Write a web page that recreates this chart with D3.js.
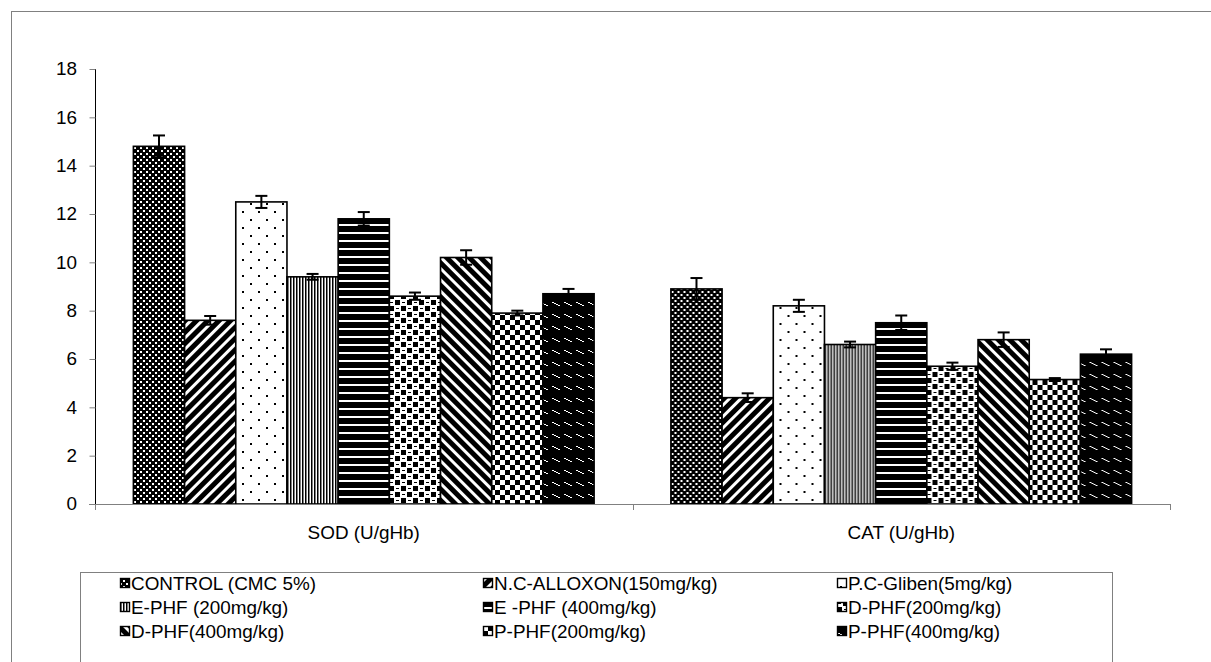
<!DOCTYPE html>
<html lang="en">
<head>
<meta charset="UTF-8">
<title>SOD / CAT</title>
<style>
  body { margin: 0; background: #fff; }
  svg text { font-family: "Liberation Sans", Arial, sans-serif; fill: #000; }
</style>
</head>
<body>
<div id="chart"></div>
<script src="https://d3js.org/d3.v7.min.js"></script>
<script>
const categories = ["SOD (U/gHb)", "CAT (U/gHb)"];
const groups = ["CONTROL (CMC 5%)", "N.C-ALLOXON(150mg/kg)", "P.C-Gliben(5mg/kg)",
                "E-PHF (200mg/kg)", "E -PHF (400mg/kg)", "D-PHF(200mg/kg)",
                "D-PHF(400mg/kg)", "P-PHF(200mg/kg)", "P-PHF(400mg/kg)"];
const sodValues = [14.8, 7.6, 12.5, 9.4, 11.8, 8.6, 10.2, 7.9, 8.7];
const sodErrors = [0.45, 0.18, 0.25, 0.12, 0.28, 0.15, 0.3, 0.1, 0.2];
const catValues = [8.9, 4.4, 8.2, 6.6, 7.5, 5.7, 6.8, 5.15, 6.2];
const catErrors = [0.45, 0.18, 0.25, 0.12, 0.3, 0.15, 0.3, 0.06, 0.2];
const yTicks = [0, 2, 4, 6, 8, 10, 12, 14, 16, 18];

const width = 1211, height = 662;
const fontSize = 18, stretchX = 1.05;
const svg = d3.select("#chart").append("svg")
    .attr("width", width).attr("height", height);

// text in the original is a little wide, so stretch it round its anchor
function stretch(sel) {
    sel.each(function () {
        const t = d3.select(this);
        const tx = +t.attr("x") || 0, ty = +t.attr("y") || 0;
        t.attr("x", 0).attr("y", 0)
         .attr("transform", `translate(${tx},${ty}) scale(${stretchX},1)`);
    });
}

// outer chart frame
svg.append("rect")
    .attr("x", 11.5).attr("y", 11.5)
    .attr("width", width).attr("height", height)
    .attr("fill", "none").attr("stroke", "#808080");

// fill patterns, one per group
const defs = svg.append("defs");
function pat(id, w, h, bg, draw, transform) {
    const p = defs.append("pattern")
        .attr("id", id).attr("patternUnits", "userSpaceOnUse")
        .attr("width", w).attr("height", h);
    if (transform) p.attr("patternTransform", transform);
    p.append("rect").attr("width", w).attr("height", h).attr("fill", bg);
    draw(p);
}
const fg = (p, x, y, w, h, c) => p.append("rect").attr("x", x).attr("y", y)
    .attr("width", w).attr("height", h).attr("fill", c);

pat("p0", 6, 6, "#000", p => { fg(p, 0, 0, 2, 2, "#fff"); fg(p, 3, 3, 2, 2, "#fff"); });
pat("p1", 8, 8, "#fff", p => fg(p, 0, 0, 5, 8, "#000"), "rotate(45)");
pat("p2", 16, 16, "#fff", p => { fg(p, 3, 3, 2, 2, "#000"); fg(p, 11, 11, 2, 2, "#000"); });
pat("p3", 3, 3, "#fff", p => fg(p, 0, 0, 1.5, 3, "#000"));
pat("p4", 8, 8, "#000", p => fg(p, 0, 0, 8, 2, "#fff"));
pat("p5", 12, 12, "#fff", p => {
    fg(p, 0, 0, 5, 5, "#000"); fg(p, 6, 6, 5, 5, "#000");
    fg(p, 7, 2, 3, 1, "#000"); fg(p, 1, 8, 3, 1, "#000");
});
pat("p6", 8, 8, "#fff", p => fg(p, 0, 0, 5, 8, "#000"), "rotate(-45)");
pat("p7", 10, 10, "#fff", p => { fg(p, 0, 0, 5, 5, "#000"); fg(p, 5, 5, 5, 5, "#000"); });
pat("p8", 12, 12, "#000", p => {
    fg(p, 1, 2, 2, 1, "#fff"); fg(p, 3, 3, 2, 1, "#fff");
    fg(p, 5, 4, 2, 1, "#fff"); fg(p, 7, 5, 2, 1, "#fff");
});

const y = d3.scaleLinear().domain([0, 18]).range([504, 69]);
const x0 = d3.scaleBand().domain(categories).range([95, 1170]);
const x1 = d3.scaleBand().domain(groups).range([0, x0.bandwidth()])
    .paddingInner(0).paddingOuter(0.75);

const data = categories.map((c, ci) => ({
    cat: c,
    vals: groups.map((g, gi) => ({
        g, gi,
        v: ci === 0 ? sodValues[gi] : catValues[gi],
        e: ci === 0 ? sodErrors[gi] : catErrors[gi]
    }))
}));

// y axis
const yAxis = svg.append("g").attr("transform", "translate(95,0)")
    .call(d3.axisLeft(y).tickValues(yTicks).tickSize(6).tickSizeOuter(0).tickPadding(12));
yAxis.select(".domain").attr("stroke", "#000").attr("d", `M0.5,${y(18)}V${y(0)}`);
yAxis.selectAll(".tick line").attr("stroke", "#808080").attr("transform", "translate(0.5,0)");
yAxis.selectAll(".tick text").attr("font-size", fontSize)
    .attr("font-family", "Liberation Sans, Arial").attr("fill", "#000").call(stretch);

// bars
const gCat = svg.append("g").selectAll("g").data(data).join("g")
    .attr("transform", d => `translate(${x0(d.cat)},0)`);

gCat.selectAll("rect").data(d => d.vals).join("rect")
    .attr("x", d => x1(d.g))
    .attr("y", d => y(d.v))
    .attr("width", x1.bandwidth())
    .attr("height", d => y(0) - y(d.v))
    .attr("fill", d => `url(#p${d.gi})`)
    .attr("stroke", "#000").attr("stroke-width", 1.6);

// error bars
const eb = gCat.selectAll("g.err").data(d => d.vals).join("g").attr("class", "err")
    .attr("stroke", "#000").attr("stroke-width", 2);
const cx = d => x1(d.g) + x1.bandwidth() / 2;
eb.append("line")
    .attr("x1", cx).attr("x2", cx)
    .attr("y1", d => y(d.v + d.e)).attr("y2", d => y(d.v - d.e));
eb.append("line")
    .attr("x1", d => cx(d) - 6).attr("x2", d => cx(d) + 6)
    .attr("y1", d => y(d.v + d.e)).attr("y2", d => y(d.v + d.e));
eb.append("line")
    .attr("x1", d => cx(d) - 6).attr("x2", d => cx(d) + 6)
    .attr("y1", d => y(d.v - d.e)).attr("y2", d => y(d.v - d.e));

// x axis (category axis, ticks at band edges)
const [xa, xb] = x0.range();
svg.append("line")
    .attr("x1", xa - 6).attr("x2", xb).attr("y1", y(0) + 0.5).attr("y2", y(0) + 0.5)
    .attr("stroke", "#808080").attr("stroke-width", 1.2);
const edges = categories.map(c => x0(c)).concat([xb]);
svg.append("g").selectAll("line").data(edges).join("line")
    .attr("x1", d => Math.round(d) + 0.5).attr("x2", d => Math.round(d) + 0.5)
    .attr("y1", y(0)).attr("y2", y(0) + 6)
    .attr("stroke", "#808080");
svg.append("g").selectAll("text").data(categories).join("text")
    .attr("x", d => x0(d) + x0.bandwidth() / 2)
    .attr("y", y(0) + 35)
    .attr("text-anchor", "middle").attr("font-size", fontSize)
    .text(d => d)
    .call(stretch);

// legend
const legend = svg.append("g");
legend.append("rect")
    .attr("x", 80.5).attr("y", 572.5).attr("width", 1032).attr("height", 120)
    .attr("fill", "#fff").attr("stroke", "#808080");
const colX = [120, 483, 837];
const rowY = [583, 607, 631];
const item = legend.selectAll("g.item").data(groups).join("g").attr("class", "item")
    .attr("transform", (d, i) => `translate(${colX[i % 3]},${rowY[Math.floor(i / 3)]})`);
item.append("rect")
    .attr("x", 0.5).attr("y", -4.5).attr("width", 9).attr("height", 9)
    .attr("fill", (d, i) => `url(#p${i})`).attr("stroke", "#000").attr("stroke-width", 1.4);
item.append("text")
    .attr("x", 11).attr("y", 6.5)
    .attr("font-size", fontSize)
    .text(d => d)
    .call(stretch);
</script>
</body>
</html>
